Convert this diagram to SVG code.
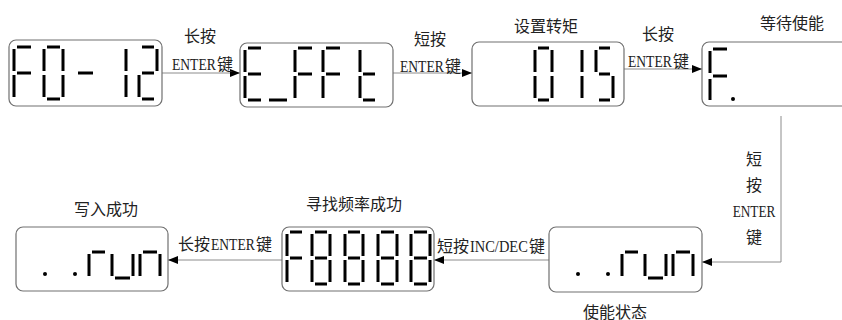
<svg xmlns="http://www.w3.org/2000/svg" width="842" height="320" viewBox="0 0 842 320">
<defs>
<style>
.box{fill:#fff;stroke:#707070;stroke-width:1.2}
.seg{fill:none;stroke:#000;stroke-width:3;stroke-linecap:butt}
.dot{fill:#000}
.conn{fill:none;stroke:#8c8c8c;stroke-width:1}
.t{font-family:"Liberation Serif","Noto Sans CJK SC",serif;font-size:16px;fill:#222}
.c{text-anchor:middle}
.L{font-size:17px}
</style>
<marker id="ah" viewBox="0 0 10 8" refX="10" refY="4" markerWidth="10" markerHeight="8" markerUnits="userSpaceOnUse" orient="auto">
<path d="M0,0 L10,4 L0,8 Z" fill="#000"/>
</marker>
</defs>
<rect width="842" height="320" fill="#fff"/>

<g id="connectors">
<path class="conn" d="M162,73 H240" marker-end="url(#ah)"/>
<path class="conn" d="M393,73 H472" marker-end="url(#ah)"/>
<path class="conn" d="M624,69 H702" marker-end="url(#ah)"/>
<path class="conn" d="M781,116 V262 H702" marker-end="url(#ah)"/>
<path class="conn" d="M549,260 H434" marker-end="url(#ah)"/>
<path class="conn" d="M282,260 H168" marker-end="url(#ah)"/>
<text class="t c" x="200" y="42">长按</text>
<text class="t L" transform="translate(172,70) scale(0.8,1)">ENTER</text>
<text class="t" x="217" y="70">键</text>
<text class="t c" x="430" y="45">短按</text>
<text class="t L" transform="translate(400,72) scale(0.8,1)">ENTER</text>
<text class="t" x="445" y="72">键</text>
<text class="t c" x="658" y="40">长按</text>
<text class="t L" transform="translate(628,67) scale(0.8,1)">ENTER</text>
<text class="t" x="673" y="67">键</text>
<text class="t c" x="754" y="165">短</text>
<text class="t c" x="754" y="191">按</text>
<text class="t c L" transform="translate(754,217) scale(0.78,1)">ENTER</text>
<text class="t c" x="754" y="243">键</text>
<text class="t" x="437" y="252">短按</text>
<text class="t L" transform="translate(470,252) scale(0.85,1)">INC/DEC</text>
<text class="t" x="529" y="252">键</text>
<text class="t" x="178" y="250">长按</text>
<text class="t L" transform="translate(211,250) scale(0.8,1)">ENTER</text>
<text class="t" x="256" y="250">键</text>
</g>

<g id="node1">
<rect class="box" x="9" y="40" width="153" height="66" rx="7"/>
<path class="seg" d="M17,47 H31 M14,49 V71 M14,75 V97 M17,73 H31"/>
<path class="seg" d="M47,47 H60 M63,49 V71 M63,75 V97 M47,99 H60 M44,75 V97 M44,49 V71"/>
<path class="seg" d="M78,73 H93"/>
<path class="seg" d="M126,49 V71 M126,75 V97"/>
<path class="seg" d="M142,47 H154 M157,49 V71 M142,73 H154 M139,75 V97 M142,99 H154"/>
</g>

<g id="node2">
<rect class="box" x="240" y="43" width="153" height="64" rx="7"/>
<path class="seg" d="M248,48 H261 M245,50 V72 M248,74 H261 M245,76 V98 M248,100 H261"/>
<path class="seg" d="M269,100 H287"/>
<path class="seg" d="M298,48 H312 M295,50 V72 M298,74 H312 M295,76 V98"/>
<path class="seg" d="M326,48 H340 M323,50 V72 M326,74 H340 M323,76 V98"/>
<path class="seg" d="M360,50 V72 M363,74 H375 M360,76 V98 M363,100 H375"/>
</g>

<g id="node3">
<rect class="box" x="472" y="42" width="152" height="64" rx="7"/>
<text class="t c" x="546" y="32">设置转矩</text>
<path class="seg" d="M538,48 H549 M552,50 V72 M552,76 V98 M538,100 H549 M535,76 V98 M535,50 V72"/>
<path class="seg" d="M582,50 V72 M582,76 V98"/>
<path class="seg" d="M599,48 H610 M596,50 V72 M599,74 H610 M613,76 V98 M599,100 H610"/>
</g>

<g id="node4">
<rect class="box" x="702" y="42" width="160" height="64" rx="7"/>
<text class="t c" x="792" y="29">等待使能</text>
<path class="seg" d="M713,49 H727 M710,51 V73 M713,76 H727 M710,79 V100"/>
<circle class="dot" cx="733" cy="99" r="2"/>
</g>

<g id="node5">
<rect class="box" x="549" y="227" width="153" height="65" rx="7"/>
<text class="t c" x="615" y="318">使能状态</text>
<circle class="dot" cx="578" cy="274" r="2"/>
<circle class="dot" cx="608" cy="274" r="2"/>
<path class="seg" d="M622,254 V276 M625,252 H638"/>
<path class="seg" d="M645,254 V276 M666,254 V276 M648,278 H663"/>
<path class="seg" d="M673,254 V276 M693,254 V276 M676,252 H690"/>
</g>

<g id="node6">
<rect class="box" x="282" y="227" width="152" height="64" rx="7"/>
<text class="t c" x="354" y="210">寻找频率成功</text>
<path class="seg" d="M290,232 H302 M287,234 V256 M290,258 H302 M287,260 V282"/>
<path class="seg" d="M315,232 H327 M330,234 V256 M330,260 V282 M315,284 H327 M312,260 V282 M312,234 V256 M315,258 H327"/>
<path class="seg" d="M348,232 H360 M363,234 V256 M363,260 V282 M348,284 H360 M345,260 V282 M345,234 V256 M348,258 H360"/>
<path class="seg" d="M381,232 H394 M397,234 V256 M397,260 V282 M381,284 H394 M378,260 V282 M378,234 V256 M381,258 H394"/>
<path class="seg" d="M414,232 H427 M430,234 V256 M430,260 V282 M414,284 H427 M411,260 V282 M411,234 V256 M414,258 H427"/>
</g>

<g id="node7">
<rect class="box" x="16" y="227" width="152" height="64" rx="7"/>
<text class="t c" x="106" y="215">写入成功</text>
<circle class="dot" cx="45" cy="274" r="2"/>
<circle class="dot" cx="75" cy="274" r="2"/>
<path class="seg" d="M89,254 V276 M92,252 H105"/>
<path class="seg" d="M112,254 V276 M133,254 V276 M115,278 H130"/>
<path class="seg" d="M140,254 V276 M160,254 V276 M143,252 H157"/>
</g>
</svg>
